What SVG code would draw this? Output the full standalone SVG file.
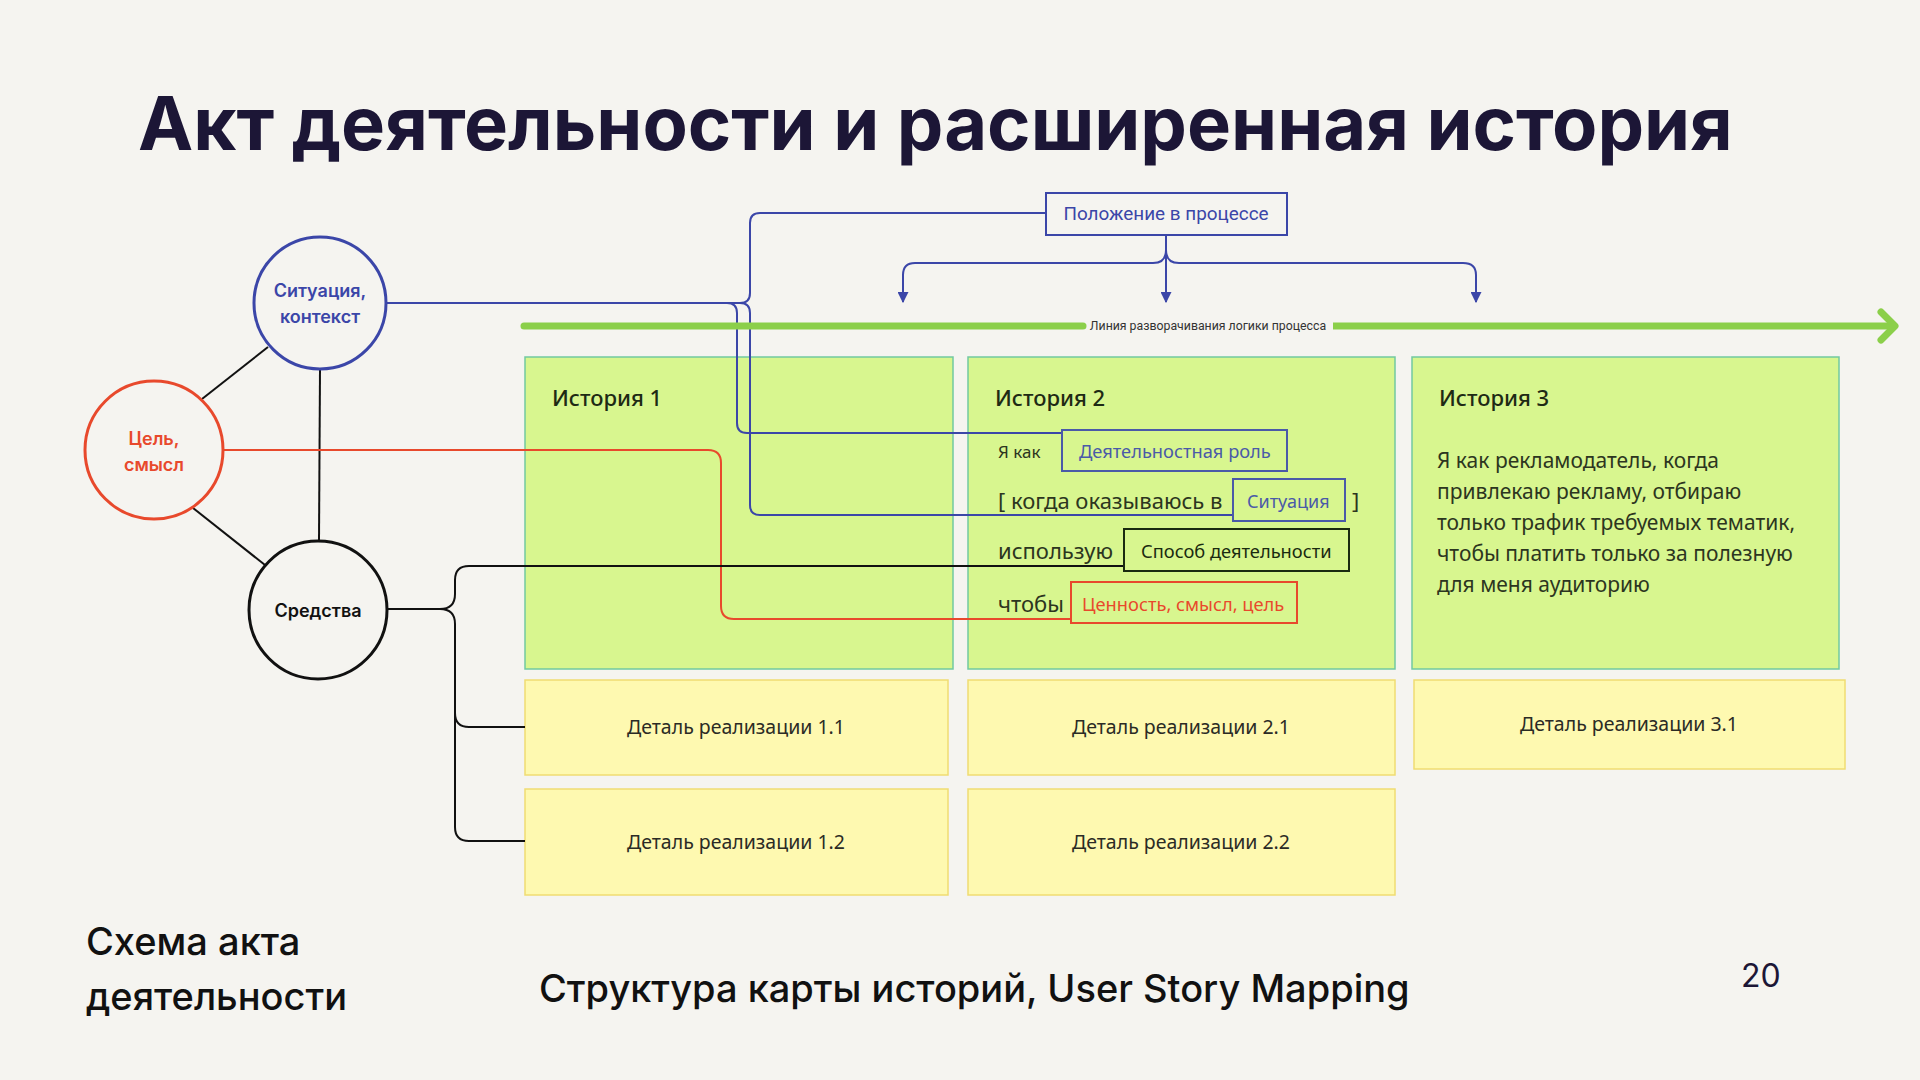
<svg xmlns="http://www.w3.org/2000/svg" width="1920" height="1080" viewBox="0 0 1920 1080">
<style>
.bg{fill:#f5f4f0}
.title{font-family:Inter,"Noto Sans",sans-serif;font-weight:700;font-size:74px;fill:#1c1636}
.clab{font-family:Inter,"Noto Sans",sans-serif;font-weight:600;font-size:18px;text-anchor:middle}
.story{fill:#d8f68f;stroke:#72c9a0;stroke-width:1.5}
.detail{fill:#fef9b0;stroke:#f0dc72;stroke-width:1.5}
.sh{font-family:"Noto Sans",sans-serif;font-weight:500;font-size:22px;fill:#1e2a14}
.st{font-family:"Noto Sans",sans-serif;font-size:21px;fill:#2c3520}
.dt{font-family:"Noto Sans",sans-serif;font-size:19.5px;fill:#2b2b25;text-anchor:middle}
.lb{font-family:"Noto Sans",sans-serif;font-size:18.3px}
.bl{fill:none;stroke:#3b46a8;stroke-width:2}
.rd{fill:none;stroke:#e8492c;stroke-width:2}
.bk{fill:none;stroke:#111;stroke-width:2}
.foot{font-family:Inter,"Noto Sans",sans-serif;font-weight:500;font-size:38px;fill:#111}
</style>
<defs>
<marker id="ab" viewBox="0 0 10 10" refX="9" refY="5" markerWidth="5.5" markerHeight="5.5" orient="auto" markerUnits="strokeWidth">
<path d="M0,0 L10,5 L0,10 z" fill="#3b46a8"/>
</marker>
</defs>
<rect class="bg" x="0" y="0" width="1920" height="1080"/>
<text class="title" x="138" y="150">Акт деятельности и расширенная история</text>

<g id="stories">
<g id="story1"><rect class="story" x="525" y="357" width="428" height="312"/><text class="sh" x="552" y="406">История 1</text></g>
<g id="story2"><rect class="story" x="968" y="357" width="427" height="312"/><text class="sh" x="995" y="406">История 2</text>
<text class="lb" x="998" y="458" fill="#2c3520" style="font-size:17px">Я как</text>
<text class="st" x="998" y="509" style="font-size:22px">[ когда оказываюсь в</text>
<text class="st" x="1352" y="509" style="font-size:22px">]</text>
<text class="st" x="998" y="559" style="font-size:22px">использую</text>
<text class="st" x="998" y="612" style="font-size:22px">чтобы</text>
</g>
<g id="story3"><rect class="story" x="1412" y="357" width="427" height="312"/><text class="sh" x="1439" y="406">История 3</text>
<text class="st" x="1437" y="468">Я как рекламодатель, когда</text>
<text class="st" x="1437" y="499">привлекаю рекламу, отбираю</text>
<text class="st" x="1437" y="530">только трафик требуемых тематик,</text>
<text class="st" x="1437" y="561">чтобы платить только за полезную</text>
<text class="st" x="1437" y="592">для меня аудиторию</text>
</g>
</g>

<g id="details">
<g id="d11"><rect class="detail" x="525" y="680" width="423" height="95"/><text class="dt" x="736" y="734">Деталь реализации 1.1</text></g>
<g id="d21"><rect class="detail" x="968" y="680" width="427" height="95"/><text class="dt" x="1181" y="734">Деталь реализации 2.1</text></g>
<g id="d31"><rect class="detail" x="1414" y="680" width="431" height="89"/><text class="dt" x="1629" y="731">Деталь реализации 3.1</text></g>
<g id="d12"><rect class="detail" x="525" y="789" width="423" height="106"/><text class="dt" x="736" y="849">Деталь реализации 1.2</text></g>
<g id="d22"><rect class="detail" x="968" y="789" width="427" height="106"/><text class="dt" x="1181" y="849">Деталь реализации 2.2</text></g>
</g>

<g id="connectors">
<line x1="268" y1="347" x2="202" y2="399" class="bk"/>
<line x1="193" y1="508" x2="265" y2="565" class="bk"/>
<line x1="320" y1="369" x2="319" y2="541" class="bk"/>
<path class="bl" d="M387,303 H727 Q737,303 737,313 V423 Q737,433 747,433 H1062"/>
<path class="bl" d="M387,303 H740 Q750,303 750,313 V505 Q750,515 760,515 H1233"/>
<path class="bl" d="M720,303 H740 Q750,303 750,293 V223 Q750,213 760,213 H1046"/>
<path class="bl" d="M1166,235 V302" marker-end="url(#ab)"/>
<path class="bl" d="M1166,250 Q1166,263 1153,263 H915 Q903,263 903,275 V302" marker-end="url(#ab)"/>
<path class="bl" d="M1166,250 Q1166,263 1179,263 H1463 Q1476,263 1476,275 V302" marker-end="url(#ab)"/>
<path class="rd" d="M223,450 H708 Q721,450 721,463 V606 Q721,619 734,619 H1071"/>
<path class="bk" d="M387,609 H440 Q455,609 455,594 V580 Q455,566 469,566 H1124"/>
<path class="bk" d="M440,609 Q455,609 455,624 V713 Q455,727 469,727 H525"/>
<path class="bk" d="M455,713 V827 Q455,841 469,841 H525"/>
<g id="process-line">
<path d="M524,326 H1083" stroke="#8bcf4a" stroke-width="7" stroke-linecap="round" fill="none"/>
<path d="M1333,326 H1893" stroke="#8bcf4a" stroke-width="7" fill="none"/>
<path d="M1881,312 L1895,326 L1881,340" stroke="#8bcf4a" stroke-width="7" stroke-linecap="round" stroke-linejoin="round" fill="none"/>
<text x="1208" y="330" text-anchor="middle" font-family="Roboto,'Noto Sans',sans-serif" font-size="12.3" fill="#333">Линия разворачивания логики процесса</text>
</g>
</g>

<g id="situation"><circle cx="320" cy="303" r="66" fill="none" stroke="#3b46a8" stroke-width="3"/><text class="clab" x="320" y="297" fill="#3b46a8">Ситуация,</text><text class="clab" x="320" y="323" fill="#3b46a8">контекст</text></g>
<g id="goal"><circle cx="154" cy="450" r="69" fill="none" stroke="#e8492c" stroke-width="3"/><text class="clab" x="154" y="445" fill="#e8492c">Цель,</text><text class="clab" x="154" y="471" fill="#e8492c">смысл</text></g>
<g id="means"><circle cx="318" cy="610" r="69" fill="none" stroke="#111" stroke-width="3"/><text class="clab" x="318" y="617" fill="#111">Средства</text></g>

<g id="position"><rect x="1046" y="193" width="241" height="42" fill="#f5f4f0" stroke="#3b46a8" stroke-width="2"/><text x="1166" y="220" text-anchor="middle" font-family="Roboto,'Noto Sans',sans-serif" font-size="18.9" fill="#3b46a8">Положение в процессе</text></g>
<g id="role"><rect x="1062" y="430" width="225" height="41" fill="none" stroke="#4a5aa8" stroke-width="2"/><text class="lb" x="1079" y="458" fill="#4a5aa8">Деятельностная роль</text></g>
<g id="situation-box"><rect x="1233" y="479" width="112" height="42" fill="none" stroke="#4a5aa8" stroke-width="2"/><text class="lb" x="1247" y="508" fill="#4a5aa8" style="font-size:18px">Ситуация</text></g>
<g id="method"><rect x="1124" y="529" width="225" height="42" fill="none" stroke="#1a2a10" stroke-width="2"/><text class="lb" x="1141" y="558" fill="#1a2a10">Способ деятельности</text></g>
<g id="value"><rect x="1071" y="582" width="226" height="41" fill="none" stroke="#e8492c" stroke-width="2"/><text class="lb" x="1082" y="611" fill="#e8492c">Ценность, смысл, цель</text></g>

<text class="foot" x="86" y="955">Схема акта</text>
<text class="foot" x="86" y="1010">деятельности</text>
<text class="foot" x="539" y="1002">Структура карты историй, User Story Mapping</text>
<text x="1741" y="987" font-family="Inter,'Noto Sans',sans-serif" font-size="32" fill="#1c1636">20</text>
</svg>
